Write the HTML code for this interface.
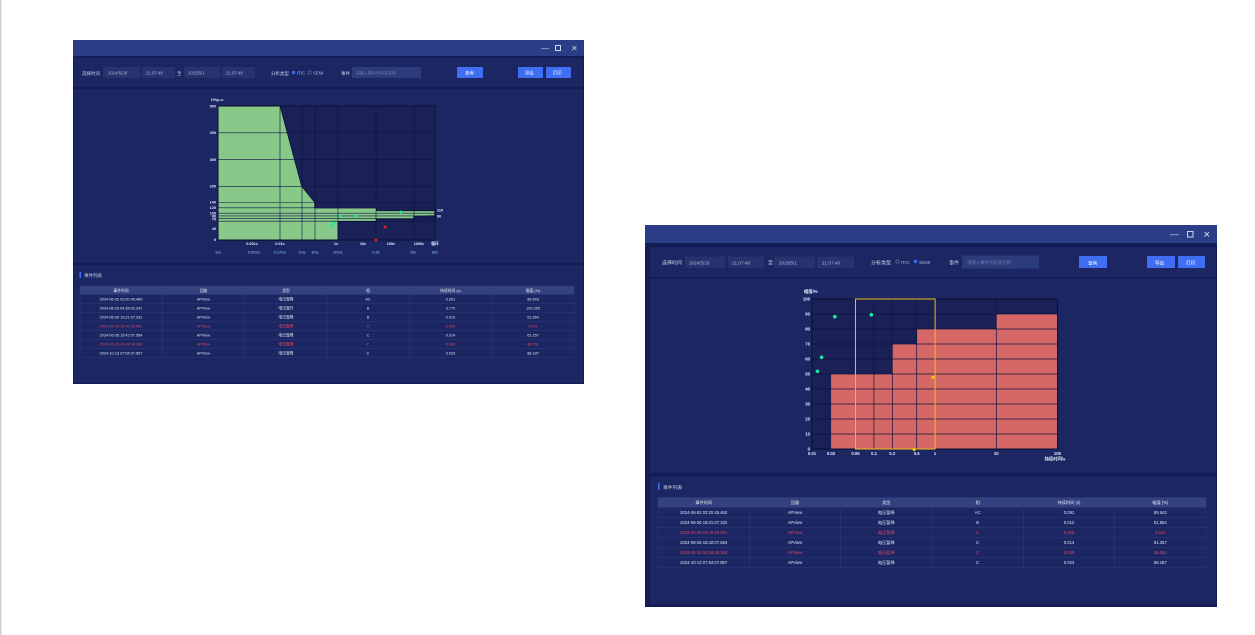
<!DOCTYPE html>
<html><head><meta charset="utf-8"><style>
html,body{margin:0;padding:0;background:#fff;width:1255px;height:635px;overflow:hidden}
svg{display:block}
text{font-family:"Liberation Sans","Noto Sans CJK SC",sans-serif;}
</style></head><body>
<svg width="1255" height="635" viewBox="0 0 1255 635" xmlns="http://www.w3.org/2000/svg">
<rect x="0" y="0" width="1255" height="635" fill="#fff"/>
<rect x="0" y="0" width="1.5" height="635" fill="#c9d3d6"/>

<!-- ================= WINDOW 1 ================= -->
<g>
<rect x="73" y="40" width="511" height="344" fill="#141c55"/>
<rect x="73" y="40" width="511" height="16" fill="#2b3d86"/>
<text x="541" y="51" font-size="8" fill="#cfd6ee">—</text>
<rect x="555.5" y="45.5" width="5" height="5" fill="none" stroke="#cfd6ee" stroke-width="1"/>
<text x="571" y="51" font-size="8" fill="#cfd6ee">✕</text>
<!-- toolbar -->
<rect x="74" y="58" width="509" height="29" fill="#1b2663"/>
<text x="82" y="75" font-size="4.5" fill="#c7cde6">选择时间</text>
<rect x="103" y="67" width="37" height="11" fill="#26336f"/><text x="108" y="74.5" font-size="4.3" fill="#aeb6d8">2024/5/28</text>
<rect x="142" y="67" width="33" height="11" fill="#26336f"/><text x="146" y="74.5" font-size="4.3" fill="#aeb6d8">21:07:48</text>
<text x="177" y="75" font-size="4.5" fill="#c7cde6">至</text>
<rect x="184" y="67" width="36" height="11" fill="#26336f"/><text x="188" y="74.5" font-size="4.3" fill="#aeb6d8">2025/5/1</text>
<rect x="222" y="67" width="33" height="11" fill="#26336f"/><text x="226" y="74.5" font-size="4.3" fill="#aeb6d8">21:07:48</text>
<text x="271" y="75" font-size="4.5" fill="#c7cde6">分析类型</text>
<rect x="292" y="71" width="3" height="3" fill="#3d6ef0"/><text x="297" y="74.5" font-size="4.3" fill="#aeb6d8">ITIC</text>
<rect x="308" y="71" width="3" height="3" fill="none" stroke="#7f88b3" stroke-width="0.5"/><text x="313" y="74.5" font-size="4.3" fill="#aeb6d8">SEMI</text>
<text x="341" y="75" font-size="4.5" fill="#c7cde6">事件</text>
<rect x="352" y="67" width="69" height="11" fill="#2c3b7c"/><text x="356" y="74.5" font-size="4" fill="#6f7aa8">请输入事件代码或名称</text>
<rect x="457" y="67" width="26" height="11" fill="#3f6ef2"/><text x="465" y="74.5" font-size="4.3" fill="#fff">查询</text>
<rect x="518" y="67" width="25" height="11" fill="#3f6ef2"/><text x="525" y="74.5" font-size="4.3" fill="#fff">导出</text>
<rect x="546" y="67" width="25" height="11" fill="#3f6ef2"/><text x="553" y="74.5" font-size="4.3" fill="#fff">打印</text>
<!-- chart panel -->
<rect x="74" y="89" width="509" height="174" fill="#1b2663"/>
<rect x="218" y="106" width="217" height="134" fill="#192157"/>
<polygon fill="#88c98a" stroke="#0b1030" stroke-width="0.8" points="218,105.7 280,105.7 301.7,186.3 314.7,202.3 314.7,208 376.3,208 376.3,210.7 434.7,210.7 434.7,215.7 413.7,216.3 413.7,219 376.3,219 376.3,221.7 338,221.7 338,240.3 218,240.3"/>
<g stroke="#0d1440" stroke-width="0.6">
<line x1="218" y1="132.8" x2="435" y2="132.8"/><line x1="218" y1="159.6" x2="435" y2="159.6"/><line x1="218" y1="186.4" x2="435" y2="186.4"/>
<line x1="218" y1="202.5" x2="435" y2="202.5"/><line x1="218" y1="207.8" x2="435" y2="207.8"/><line x1="218" y1="213.2" x2="435" y2="213.2"/>
<line x1="218" y1="215.9" x2="435" y2="215.9"/><line x1="218" y1="218.6" x2="435" y2="218.6"/><line x1="218" y1="221.2" x2="435" y2="221.2"/>
<line x1="280" y1="106" x2="280" y2="240"/><line x1="302" y1="106" x2="302" y2="240"/><line x1="315" y1="106" x2="315" y2="240"/>
<line x1="338" y1="106" x2="338" y2="240"/><line x1="376" y1="106" x2="376" y2="240"/><line x1="414" y1="106" x2="414" y2="240"/>
</g>
<rect x="218" y="106" width="217" height="134" fill="none" stroke="#0b1030" stroke-width="1"/>
<g font-size="3.8" fill="#e8ecff" font-weight="bold" text-anchor="end">
<text x="216" y="107.5">500</text><text x="216" y="134">400</text><text x="216" y="161">300</text><text x="216" y="187.5">200</text>
<text x="216" y="203.5">140</text><text x="216" y="209">120</text><text x="216" y="214.5">100</text><text x="216" y="217.5">90</text><text x="216" y="220.5">70</text><text x="216" y="230">40</text><text x="216" y="241">0</text>
</g>
<text x="211" y="101" font-size="3.8" fill="#e8ecff" font-weight="bold">U%p.u.</text>
<text x="437" y="211.5" font-size="3.8" fill="#e8ecff" font-weight="bold">110</text>
<text x="437" y="217.5" font-size="3.8" fill="#e8ecff" font-weight="bold">90</text>
<g font-size="3.8" fill="#e8ecff" font-weight="bold" text-anchor="middle">
<text x="252" y="245">0.001c</text><text x="280" y="245">0.01c</text><text x="336" y="245">1c</text><text x="363" y="245">10c</text><text x="391" y="245">100c</text><text x="419" y="245">1000c</text><text x="435" y="245">循环</text>
</g>
<g font-size="3.8" fill="#8fd0f0" text-anchor="middle">
<text x="218" y="253.5">1us</text><text x="254" y="253.5">0.02ms</text><text x="280" y="253.5">0.17ms</text><text x="302" y="253.5">1ms</text><text x="315" y="253.5">3ms</text><text x="338" y="253.5">20ms</text><text x="376" y="253.5">0.5s</text><text x="413" y="253.5">10s</text><text x="435" y="253.5">60s</text>
</g>
<g fill="#1ee8a0"><circle cx="332" cy="226" r="1.5"/><circle cx="334" cy="223" r="1.5"/><circle cx="340" cy="216" r="1.5"/><circle cx="356" cy="216" r="1.5"/><circle cx="401" cy="212" r="1.5"/></g>
<g fill="#ee1818"><circle cx="385" cy="227" r="1.5"/><circle cx="376" cy="240" r="1.5"/></g>
<!-- table panel -->
<rect x="74" y="265" width="509" height="118" fill="#1b2663"/>
<rect x="79.5" y="272" width="1.5" height="6" fill="#3f6ef2"/>
<text x="84" y="277" font-size="4.5" fill="#c7cde6">事件列表</text>
<rect x="80" y="286" width="494" height="8.5" fill="#33427f"/>
<g stroke="#2e3c7a" stroke-width="0.5" fill="none">
<rect x="80" y="286" width="494" height="71.5"/>
<line x1="80" y1="303.5" x2="574" y2="303.5"/><line x1="80" y1="312.5" x2="574" y2="312.5"/><line x1="80" y1="321.5" x2="574" y2="321.5"/><line x1="80" y1="330.5" x2="574" y2="330.5"/><line x1="80" y1="339.5" x2="574" y2="339.5"/><line x1="80" y1="348.5" x2="574" y2="348.5"/>
<line x1="162.3" y1="286" x2="162.3" y2="357.5"/><line x1="244.7" y1="286" x2="244.7" y2="357.5"/><line x1="327" y1="286" x2="327" y2="357.5"/><line x1="409.3" y1="286" x2="409.3" y2="357.5"/><line x1="491.7" y1="286" x2="491.7" y2="357.5"/>
</g>
<g font-size="3.8" text-anchor="middle" fill="#dfe4f5">
<text x="121" y="291.8">事件时间</text><text x="203.5" y="291.8">回路</text><text x="286" y="291.8">类型</text><text x="368" y="291.8">相</text><text x="450.5" y="291.8">持续时间 (s)</text><text x="533" y="291.8">幅值 (%)</text>
<g><text x="121" y="300.5">2024-06-02 03:20:45.460</text><text x="203.5" y="300.5">APView</text><text x="286" y="300.5">电压暂降</text><text x="368" y="300.5">AC</text><text x="450.5" y="300.5">0.091</text><text x="533" y="300.5">89.543</text></g>
<g><text x="121" y="309.5">2024-06-16 04:38:02.241</text><text x="203.5" y="309.5">APView</text><text x="286" y="309.5">电压暂升</text><text x="368" y="309.5">B</text><text x="450.5" y="309.5">3.770</text><text x="533" y="309.5">105.265</text></g>
<g><text x="121" y="318.5">2024-06-26 19:21:07.332</text><text x="203.5" y="318.5">APView</text><text x="286" y="318.5">电压暂降</text><text x="368" y="318.5">B</text><text x="450.5" y="318.5">0.012</text><text x="533" y="318.5">51.854</text></g>
<g fill="#e04a62"><text x="121" y="327.5">2024-06-26 19:40:29.651</text><text x="203.5" y="327.5">APView</text><text x="286" y="327.5">电压暂降</text><text x="368" y="327.5">C</text><text x="450.5" y="327.5">0.455</text><text x="533" y="327.5">0.031</text></g>
<g><text x="121" y="336.5">2024-06-26 19:42:07.584</text><text x="203.5" y="336.5">APView</text><text x="286" y="336.5">电压暂降</text><text x="368" y="336.5">C</text><text x="450.5" y="336.5">0.014</text><text x="533" y="336.5">61.257</text></g>
<g fill="#e04a62"><text x="121" y="345.5">2024-06-26 19:48:48.360</text><text x="203.5" y="345.5">APView</text><text x="286" y="345.5">电压暂降</text><text x="368" y="345.5">C</text><text x="450.5" y="345.5">0.939</text><text x="533" y="345.5">48.051</text></g>
<g><text x="121" y="354.5">2024-10-13 07:54:07.857</text><text x="203.5" y="354.5">APView</text><text x="286" y="354.5">电压暂降</text><text x="368" y="354.5">C</text><text x="450.5" y="354.5">0.023</text><text x="533" y="354.5">88.187</text></g>
</g>
</g>

<!-- ================= WINDOW 2 ================= -->
<g>
<rect x="645" y="225" width="572" height="382" fill="#141c55"/>
<rect x="645" y="225" width="572" height="18" fill="#2b3d86"/>
<text x="1170" y="237" font-size="9" fill="#cfd6ee">—</text>
<rect x="1187.5" y="231.5" width="5.5" height="5.5" fill="none" stroke="#cfd6ee" stroke-width="1"/>
<text x="1203" y="237.5" font-size="9" fill="#cfd6ee">✕</text>
<rect x="650" y="247" width="566" height="30" fill="#1b2663"/>
<text x="662" y="264.5" font-size="5" fill="#c7cde6">选择时间</text>
<rect x="685" y="256.5" width="40" height="11.5" fill="#26336f"/><text x="689" y="264.5" font-size="4.6" fill="#aeb6d8">2024/5/28</text>
<rect x="728" y="256.5" width="36" height="11.5" fill="#26336f"/><text x="732" y="264.5" font-size="4.6" fill="#aeb6d8">21:07:48</text>
<text x="768" y="264.5" font-size="5" fill="#c7cde6">至</text>
<rect x="774" y="256.5" width="41" height="11.5" fill="#26336f"/><text x="779" y="264.5" font-size="4.6" fill="#aeb6d8">2025/5/1</text>
<rect x="817" y="256.5" width="37" height="11.5" fill="#26336f"/><text x="822" y="264.5" font-size="4.6" fill="#aeb6d8">21:07:48</text>
<text x="871" y="264.5" font-size="5" fill="#c7cde6">分析类型</text>
<rect x="896" y="260" width="3" height="3" fill="none" stroke="#7f88b3" stroke-width="0.5"/><text x="901" y="264" font-size="4.6" fill="#aeb6d8">ITIC</text>
<rect x="914" y="260" width="3" height="3" fill="#3d6ef0"/><text x="919" y="264" font-size="4.6" fill="#aeb6d8">SEMI</text>
<text x="949" y="264.5" font-size="5" fill="#c7cde6">事件</text>
<rect x="962" y="255.5" width="77" height="13" fill="#2c3b7c"/><text x="967" y="264" font-size="4.4" fill="#6f7aa8">请输入事件代码或名称</text>
<rect x="1079" y="256" width="28" height="12" fill="#3f6ef2"/><text x="1088" y="264.5" font-size="4.6" fill="#fff">查询</text>
<rect x="1147" y="256" width="28" height="12" fill="#3f6ef2"/><text x="1155" y="264.5" font-size="4.6" fill="#fff">导出</text>
<rect x="1178" y="256" width="27" height="12" fill="#3f6ef2"/><text x="1186" y="264.5" font-size="4.6" fill="#fff">打印</text>
<!-- chart panel -->
<rect x="650" y="279" width="566" height="194" fill="#1b2663"/>
<rect x="812" y="299" width="245.5" height="150" fill="#192157"/>
<polygon fill="#d66767" points="831.1,374 892.3,374 892.3,344 916.7,344 916.7,329 996.3,329 996.3,314 1057.5,314 1057.5,449 831.1,449"/>
<g stroke="#0d1440" stroke-width="0.7">
<line x1="812" y1="314" x2="1057.5" y2="314"/><line x1="812" y1="329" x2="1057.5" y2="329"/><line x1="812" y1="344" x2="1057.5" y2="344"/><line x1="812" y1="359" x2="1057.5" y2="359"/><line x1="812" y1="374" x2="1057.5" y2="374"/><line x1="812" y1="389" x2="1057.5" y2="389"/><line x1="812" y1="404" x2="1057.5" y2="404"/><line x1="812" y1="419" x2="1057.5" y2="419"/><line x1="812" y1="434" x2="1057.5" y2="434"/>
<line x1="855.5" y1="299" x2="855.5" y2="449"/><line x1="873.9" y1="299" x2="873.9" y2="449"/><line x1="892.3" y1="299" x2="892.3" y2="449"/><line x1="916.7" y1="299" x2="916.7" y2="449"/><line x1="996.3" y1="299" x2="996.3" y2="449"/>
</g>
<rect x="812" y="299" width="245.5" height="150" fill="none" stroke="#0b1030" stroke-width="1"/>
<rect x="855.5" y="299" width="79.6" height="150" fill="none" stroke="#e8c010" stroke-width="1"/>
<g font-size="4.3" fill="#e8ecff" font-weight="bold" text-anchor="end">
<text x="810" y="300.5">100</text><text x="810" y="315.5">90</text><text x="810" y="330.5">80</text><text x="810" y="345.5">70</text><text x="810" y="360.5">60</text><text x="810" y="375.5">50</text><text x="810" y="390.5">40</text><text x="810" y="405.5">30</text><text x="810" y="420.5">20</text><text x="810" y="435.5">10</text><text x="810" y="450.5">0</text>
</g>
<text x="804" y="293" font-size="4.3" fill="#e8ecff" font-weight="bold">幅值/%</text>
<g font-size="4.3" fill="#e8ecff" font-weight="bold" text-anchor="middle">
<text x="812" y="455">0.01</text><text x="831" y="455">0.02</text><text x="855.5" y="455">0.05</text><text x="874" y="455">0.1</text><text x="892.3" y="455">0.2</text><text x="916.7" y="455">0.5</text><text x="935" y="455">1</text><text x="996.3" y="455">10</text><text x="1057.5" y="455">100</text>
<text x="1055" y="460.5">持续时间/s</text>
</g>
<g fill="#1ee8a0"><circle cx="834.8" cy="316.7" r="1.8"/><circle cx="871.3" cy="314.7" r="1.8"/><circle cx="821.6" cy="357.3" r="1.8"/><circle cx="817.5" cy="371.3" r="1.8"/></g>
<g fill="#f0c800"><circle cx="932.9" cy="377.3" r="1.6"/><circle cx="914.1" cy="449.5" r="1.6"/></g>
<!-- table -->
<rect x="650" y="476" width="566" height="128" fill="#1b2663"/>
<rect x="658" y="483" width="1.5" height="7" fill="#3f6ef2"/>
<text x="663" y="489" font-size="4.8" fill="#c7cde6">事件列表</text>
<rect x="658" y="497.5" width="548" height="10" fill="#33427f"/>
<g stroke="#2e3c7a" stroke-width="0.5" fill="none">
<rect x="658" y="497.5" width="548" height="70"/>
<line x1="658" y1="517.5" x2="1206" y2="517.5"/><line x1="658" y1="527.5" x2="1206" y2="527.5"/><line x1="658" y1="537.5" x2="1206" y2="537.5"/><line x1="658" y1="547.5" x2="1206" y2="547.5"/><line x1="658" y1="557.5" x2="1206" y2="557.5"/>
<line x1="749.3" y1="497.5" x2="749.3" y2="567.5"/><line x1="840.7" y1="497.5" x2="840.7" y2="567.5"/><line x1="932" y1="497.5" x2="932" y2="567.5"/><line x1="1023.3" y1="497.5" x2="1023.3" y2="567.5"/><line x1="1114.7" y1="497.5" x2="1114.7" y2="567.5"/>
</g>
<g font-size="4.2" text-anchor="middle" fill="#dfe4f5">
<text x="703.7" y="504">事件时间</text><text x="795" y="504">回路</text><text x="886.3" y="504">类型</text><text x="977.7" y="504">相</text><text x="1069" y="504">持续时间 (s)</text><text x="1160.3" y="504">幅值 (%)</text>
<g><text x="703.7" y="514">2024-06-02 03:20:45.460</text><text x="795" y="514">APView</text><text x="886.3" y="514">电压暂降</text><text x="977.7" y="514">AC</text><text x="1069" y="514">0.091</text><text x="1160.3" y="514">89.543</text></g>
<g><text x="703.7" y="524">2024-06-26 19:21:07.332</text><text x="795" y="524">APView</text><text x="886.3" y="524">电压暂降</text><text x="977.7" y="524">B</text><text x="1069" y="524">0.012</text><text x="1160.3" y="524">51.854</text></g>
<g fill="#e04a62"><text x="703.7" y="534">2024-06-26 19:40:29.651</text><text x="795" y="534">APView</text><text x="886.3" y="534">电压暂降</text><text x="977.7" y="534">C</text><text x="1069" y="534">0.455</text><text x="1160.3" y="534">0.031</text></g>
<g><text x="703.7" y="544">2024-06-26 19:42:07.584</text><text x="795" y="544">APView</text><text x="886.3" y="544">电压暂降</text><text x="977.7" y="544">C</text><text x="1069" y="544">0.014</text><text x="1160.3" y="544">61.257</text></g>
<g fill="#e04a62"><text x="703.7" y="554">2024-06-26 19:48:48.360</text><text x="795" y="554">APView</text><text x="886.3" y="554">电压暂降</text><text x="977.7" y="554">C</text><text x="1069" y="554">0.939</text><text x="1160.3" y="554">48.051</text></g>
<g><text x="703.7" y="564">2024-10-13 07:54:07.857</text><text x="795" y="564">APView</text><text x="886.3" y="564">电压暂降</text><text x="977.7" y="564">C</text><text x="1069" y="564">0.023</text><text x="1160.3" y="564">88.187</text></g>
</g>
</g>
</svg>
</body></html>
